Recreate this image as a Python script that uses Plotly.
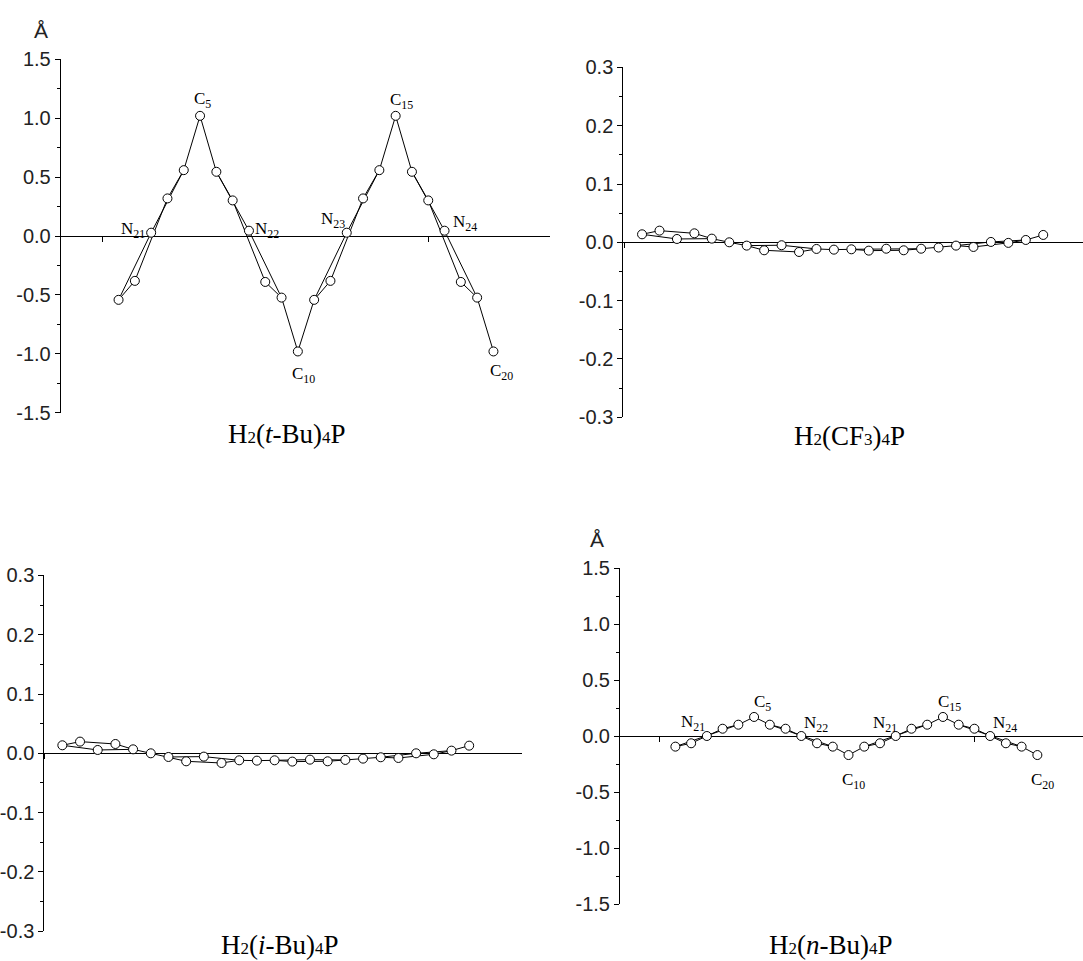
import plotly.graph_objects as go

# ---------------- data ----------------
atoms = ["C1", "C2", "N21", "C3", "C4", "C5", "C6", "C7", "N22", "C8", "C9", "C10",
         "C11", "C12", "N23", "C13", "C14", "C15", "C16", "C17", "N24", "C18", "C19", "C20"]
positions = list(range(1, 25))

y_tbu = [-0.542, -0.381, 0.028, 0.319, 0.559, 1.02, 0.545, 0.302, 0.045, -0.39, -0.523, -0.98,
         -0.542, -0.381, 0.028, 0.319, 0.559, 1.02, 0.545, 0.302, 0.045, -0.39, -0.523, -0.98]
y_cf3 = [0.0137, 0.020, 0.0057, 0.0154, 0.0063, 0.0, -0.0057, -0.0137, -0.005, -0.0166, -0.0114, -0.0126,
         -0.012, -0.0143, -0.011, -0.0137, -0.011, -0.009, -0.0057, -0.008, 0.0006, -0.001, 0.004, 0.0126]
y_ibu = [0.0135, 0.0197, 0.0056, 0.0157, 0.0067, 0.0, -0.0062, -0.0135, -0.0056, -0.0163, -0.0118, -0.0124,
         -0.0118, -0.014, -0.0107, -0.0135, -0.0112, -0.009, -0.0067, -0.0079, 0.0, -0.0017, 0.0045, 0.0129]
y_nbu = [-0.095, -0.065, 0.0, 0.065, 0.101, 0.17, 0.101, 0.065, 0.0, -0.065, -0.095, -0.17,
         -0.095, -0.065, 0.0, 0.065, 0.101, 0.17, 0.101, 0.065, 0.0, -0.065, -0.095, -0.17]

big_ticks = [-1.5, -1.0, -0.5, 0.0, 0.5, 1.0, 1.5]
big_labels = ["-1.5", "-1.0", "-0.5", "0.0", "0.5", "1.0", "1.5"]
small_ticks = [-0.3, -0.2, -0.1, 0.0, 0.1, 0.2, 0.3]
small_labels = ["-0.3", "-0.2", "-0.1", "0.0", "0.1", "0.2", "0.3"]
x_ticks = [0, 20]

SUB = "<span style='font-size:17px'>{}</span>"
titles = ["H" + SUB.format("2") + "(<i>t</i>-Bu)" + SUB.format("4") + "P",
          "H" + SUB.format("2") + "(CF" + SUB.format("3") + ")" + SUB.format("4") + "P",
          "H" + SUB.format("2") + "(<i>i</i>-Bu)" + SUB.format("4") + "P",
          "H" + SUB.format("2") + "(<i>n</i>-Bu)" + SUB.format("4") + "P"]

# atom labels: (atom, text, xanchor, xshift, yshift)
labels_tbu = [("N21", "N<sub>21</sub>", "right", -4, 3), ("C5", "C<sub>5</sub>", "center", 2, 16),
              ("N22", "N<sub>22</sub>", "left", 4, 1), ("C10", "C<sub>10</sub>", "center", 6, -24),
              ("N23", "N<sub>23</sub>", "right", 0, 13), ("C15", "C<sub>15</sub>", "center", 6, 15),
              ("N24", "N<sub>24</sub>", "left", 6, 8), ("C20", "C<sub>20</sub>", "center", 8, -21)]
labels_nbu = [("N21", "N<sub>21</sub>", "right", 0, 13), ("C5", "C<sub>5</sub>", "center", 8, 14),
              ("N22", "N<sub>22</sub>", "left", 1, 12), ("C10", "C<sub>10</sub>", "center", 5, -26),
              ("N23", "N<sub>21</sub>", "right", 3, 12), ("C15", "C<sub>15</sub>", "center", 7, 14),
              ("N24", "N<sub>24</sub>", "left", 1, 12), ("C20", "C<sub>20</sub>", "center", 5, -26)]

W, H = 1083, 961

def px(v):
    return v / W

def py(v):
    return 1 - v / H

panels = [
    dict(y=y_tbu, xd=[px(60.7), px(550)], yd=[py(412.7), py(59.3)], xr=[-2.55, 27.47],
         yr=[-1.5, 1.5], yt=big_ticks, yl=big_labels, minor=0.25, title=titles[0],
         tpos=(287, 434), labels=labels_tbu, ang=(41, 30)),
    dict(y=y_cf3, xd=[px(623.3), 1.0], yd=[py(417.2), py(67.4)], xr=[-0.075, 26.28],
         yr=[-0.3, 0.3], yt=small_ticks, yl=small_labels, minor=0.05, title=titles[1],
         tpos=(850, 436), labels=[], ang=None),
    dict(y=y_ibu, xd=[px(44.3), px(521.7)], yd=[py(931.2), py(575.4)], xr=[-0.02, 26.97],
         yr=[-0.3, 0.3], yt=small_ticks, yl=small_labels, minor=0.05, title=titles[2],
         tpos=(280, 945), labels=[], ang=None),
    dict(y=y_nbu, xd=[px(620), 1.0], yd=[py(904), py(568)], xr=[-2.52, 26.9],
         yr=[-1.5, 1.5], yt=big_ticks, yl=big_labels, minor=0.25, title=titles[3],
         tpos=(831, 945), labels=labels_nbu, ang=(597, 539)),
]

fig = go.Figure()
annotations = []
layout = dict(width=W, height=H, margin=dict(l=0, r=0, t=0, b=0, autoexpand=False),
              paper_bgcolor="white", plot_bgcolor="white", showlegend=False)

ring_idx = [i for i, a in enumerate(atoms) if a.startswith("C")]
n_idx = [i for i, a in enumerate(atoms) if a.startswith("N")]

for k, p in enumerate(panels, start=1):
    xa = "x" if k == 1 else f"x{k}"
    ya = "y" if k == 1 else f"y{k}"
    yv = p["y"]
    lx, ly = [], []
    for i in ring_idx:
        lx.append(positions[i]); ly.append(yv[i])
    for i in n_idx:
        lx.append(None); ly.append(None)
        for j in (i - 2, i, i + 2):
            lx.append(positions[j]); ly.append(yv[j])
    fig.add_trace(go.Scatter(x=lx, y=ly, mode="lines", line=dict(color="black", width=1),
                             xaxis=xa, yaxis=ya, hoverinfo="skip"))
    fig.add_trace(go.Scatter(x=positions, y=yv, mode="markers",
                             marker=dict(symbol="circle", size=9, color="white",
                                         line=dict(color="black", width=1)),
                             xaxis=xa, yaxis=ya))
    mid = (p["yd"][0] + p["yd"][1]) / 2
    layout["xaxis" if k == 1 else f"xaxis{k}"] = dict(
        domain=p["xd"], range=p["xr"], anchor="free", position=mid, automargin=False,
        showline=True, linecolor="black", linewidth=1, ticks="outside", ticklen=5,
        tickcolor="black", tickvals=x_ticks, showticklabels=False, showgrid=False,
        zeroline=False, layer="below traces")
    layout["yaxis" if k == 1 else f"yaxis{k}"] = dict(
        domain=p["yd"], range=p["yr"], anchor=xa, automargin=False, showline=True,
        linecolor="black", linewidth=1, ticks="outside", ticklen=5, tickcolor="black",
        tickvals=p["yt"], ticktext=p["yl"], showgrid=False, zeroline=False,
        tickfont=dict(family="Liberation Sans, Arial", size=20, color="#222"),
        minor=dict(ticks="outside", ticklen=3, dtick=p["minor"], tick0=0, tickcolor="black"))
    for atom, txt, xanc, xs, ys in p["labels"]:
        i = atoms.index(atom)
        annotations.append(dict(x=positions[i], y=yv[i], xref=xa, yref=ya, text=txt,
                                showarrow=False, xanchor=xanc, yanchor="middle",
                                xshift=xs, yshift=ys,
                                font=dict(family="Liberation Serif, Times New Roman", size=17,
                                          color="black")))
    annotations.append(dict(x=px(p["tpos"][0]), y=py(p["tpos"][1]), xref="paper", yref="paper",
                            text=p["title"], showarrow=False, xanchor="center", yanchor="middle",
                            font=dict(family="Liberation Serif, Times New Roman", size=27,
                                      color="black")))
    if p["ang"]:
        annotations.append(dict(x=px(p["ang"][0]), y=py(p["ang"][1]), xref="paper", yref="paper",
                                text="Å", showarrow=False, xanchor="center", yanchor="middle",
                                font=dict(family="Liberation Sans, Arial", size=21, color="#222")))

layout["annotations"] = annotations
fig.update_layout(**layout)
fig.write_html("out.html", config={"displayModeBar": False},
               post_script="document.body.style.margin='0';document.body.style.overflow='hidden';")
